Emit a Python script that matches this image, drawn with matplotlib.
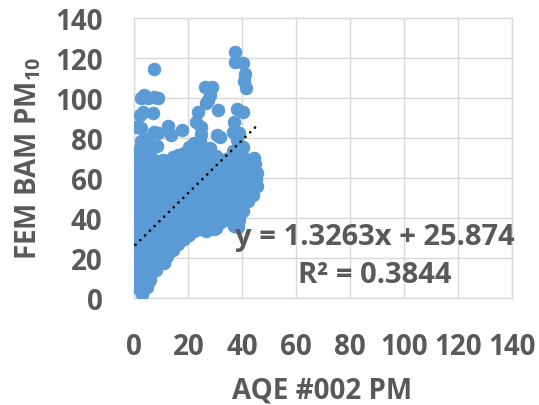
import matplotlib
matplotlib.use("Agg")
import matplotlib.pyplot as plt
import numpy as np

# AQE #002 PM readings (x) against FEM BAM PM10 readings (y)
aqe_pm = [
    0.6, 0.5, 0.8, 0.4, 0.7, 0.5, 0.9, 0.6, 0.4, 0.8, 0.5, 0.7, 0.6, 0.4, 0.9, 0.5, 0.7, 0.6,
    2.4, 2.1, 2.7, 1.9, 2.5, 2.2, 2.8, 2.0, 2.6, 2.3, 1.8, 2.5, 2.1, 2.7, 2.4, 2.0, 2.6, 2.3, 1.9, 2.5,
    3.8, 4.2, 3.6, 4.5, 4.0, 3.7, 4.4, 4.1, 3.9, 4.6, 3.8, 4.3, 4.0, 3.6, 4.4, 4.1, 3.9, 4.5, 4.2,
    5.9, 6.3, 5.7, 6.5, 6.0, 5.8, 6.4, 6.1, 5.6, 6.2, 6.6, 5.9, 6.3, 5.7, 6.0, 6.4, 5.8,
    8.1, 7.8, 8.4, 8.0, 8.6, 7.7, 8.3, 8.2, 7.9, 8.5, 8.0, 7.8, 8.4, 8.1, 8.3,
    10.2, 9.8, 10.5, 10.0, 9.7, 10.4, 10.1, 9.9, 10.6, 10.3, 9.8, 10.2, 10.0, 10.5,
    12.1, 12.5, 11.8, 12.3, 12.7, 12.0, 12.4, 11.9, 12.6, 12.2, 12.0, 12.5, 12.3,
    14.3, 14.0, 14.6, 13.8, 14.4, 14.1, 14.7, 13.9, 14.5, 14.2, 14.0, 14.6, 14.3,
    16.2, 15.9, 16.5, 16.0, 16.7, 15.8, 16.3, 16.1, 16.6, 15.9, 16.4, 16.2,
    18.4, 18.0, 18.6, 17.8, 18.3, 18.1, 18.7, 17.9, 18.5, 18.2, 18.0, 18.4,
    20.3, 19.9, 20.6, 20.1, 19.8, 20.4, 20.0, 20.7, 20.2, 19.9, 20.5, 20.1,
    22.2, 22.6, 21.9, 22.4, 22.0, 22.7, 22.3, 21.8, 22.5, 22.1, 22.4, 22.0,
    24.1, 24.5, 23.8, 24.3, 24.7, 24.0, 24.4, 23.9, 24.6, 24.2, 24.0, 24.4,
    26.2, 25.9, 26.5, 26.0, 26.7, 25.8, 26.3, 26.1, 26.6, 25.9, 26.4,
    28.3, 28.0, 28.6, 27.8, 28.4, 28.1, 28.7, 27.9, 28.5, 28.2, 28.0,
    30.1, 30.5, 29.8, 30.3, 30.7, 30.0, 30.4, 29.9, 30.6, 30.2,
    31.9, 32.3, 32.0, 32.6, 31.8, 32.4, 32.1,
    34.2, 33.9, 34.5, 34.0, 34.6, 33.8, 34.3, 34.1,
    36.1, 35.8, 36.4, 36.0, 36.6, 35.9, 36.3, 36.1, 35.8, 36.5,
    38.2, 37.9, 38.5, 38.0, 38.6, 37.8, 38.3, 38.1, 38.4, 37.9, 38.2, 38.0,
    40.1, 40.5, 39.8, 40.3, 40.6, 40.0, 40.4, 39.9, 40.2,
    42.2, 41.9, 42.5, 42.0, 42.6, 42.3,
    44.1, 43.8, 44.4, 44.0, 44.6, 44.2,
    45.3, 45.1, 45.4,
    0.6, 2.4, 1.9, 3.2, 2.5, 3.6, 5.0, 7.4, 8.7, 7.0, 7.3, 7.4, 8.9, 5.2, 8.3,
    12.5, 13.4, 17.8, 23.5, 23.0, 24.8, 24.6, 26.3, 28.6, 28.0, 26.7, 27.3, 30.9, 30.5, 31.8,
    37.3, 37.3, 40.2, 41.0, 40.6, 41.3, 37.9, 40.3, 36.9, 36.4, 38.8,
    11.5, 10.8, 2.9, 4.8, 35.4, 36.9, 38.9, 23.8, 29.6, 26.5,
]

fem_pm10 = [
    5.2, 8.9, 12.4, 16.8, 20.1, 24.6, 27.9, 32.3, 36.7, 40.2, 44.8, 48.1, 52.6, 56.3, 59.8, 64.5, 68.2, 71.9,
    3.1, 6.8, 10.5, 14.2, 18.7, 22.3, 26.1, 29.8, 34.4, 38.0, 42.6, 46.2, 50.5, 54.1, 58.7, 62.4, 66.0, 70.3, 74.8, 78.5,
    4.6, 8.3, 12.7, 16.1, 20.4, 24.0, 28.5, 31.9, 36.2, 39.8, 44.1, 47.7, 52.2, 55.9, 60.3, 64.0, 68.4, 72.1, 76.6,
    8.8, 12.5, 16.2, 19.9, 24.3, 27.8, 32.0, 35.6, 40.1, 43.7, 47.9, 51.5, 55.8, 59.6, 63.9, 67.3, 71.4,
    13.6, 17.2, 21.0, 24.7, 28.9, 32.4, 36.8, 40.5, 44.3, 48.6, 52.1, 56.4, 60.0, 64.2, 68.5,
    17.9, 21.5, 25.3, 29.0, 33.2, 36.9, 40.8, 44.9, 48.3, 52.7, 56.5, 60.6, 64.1, 68.8,
    20.6, 24.2, 28.4, 32.1, 36.5, 40.0, 44.4, 48.2, 52.0, 56.1, 60.4, 64.7, 68.3,
    23.8, 27.5, 31.2, 35.0, 39.3, 43.1, 46.8, 50.9, 54.6, 58.8, 62.5, 66.3, 70.6,
    26.7, 30.4, 34.6, 38.2, 42.5, 46.1, 50.3, 54.0, 58.2, 62.0, 66.6, 71.3,
    29.3, 33.0, 36.9, 40.7, 44.6, 48.8, 52.4, 56.7, 60.2, 64.5, 68.1, 72.4,
    31.4, 35.2, 39.1, 43.0, 46.8, 50.6, 54.9, 58.5, 62.3, 66.8, 70.7, 75.3,
    33.1, 36.8, 40.9, 44.5, 48.4, 52.3, 56.2, 60.1, 64.0, 68.0, 72.2, 77.4,
    34.3, 38.0, 42.1, 46.0, 49.9, 53.8, 57.9, 61.7, 65.6, 69.5, 73.8, 78.6,
    34.6, 38.5, 42.4, 46.3, 50.2, 54.1, 58.0, 62.2, 66.1, 70.0, 74.4,
    35.0, 38.9, 42.8, 46.7, 50.5, 54.4, 58.3, 62.6, 66.4, 70.3, 75.1,
    34.8, 38.7, 42.6, 46.5, 50.4, 54.7, 58.6, 62.5, 66.7, 71.0,
    37.9, 47.8, 51.9, 55.6, 59.9, 64.3, 68.6,
    41.2, 45.0, 48.9, 53.2, 57.1, 61.0, 65.2, 69.4,
    37.6, 41.4, 45.3, 49.2, 53.0, 57.3, 61.2, 65.0, 69.1, 73.2,
    35.5, 39.4, 43.2, 47.1, 50.9, 54.8, 58.9, 62.8, 66.5, 70.6, 74.7, 79.0,
    43.3, 47.2, 51.1, 55.0, 58.8, 62.9, 66.7, 71.2, 75.5,
    48.4, 52.2, 56.1, 60.0, 64.1, 68.2,
    51.3, 55.2, 59.1, 62.9, 66.8, 69.8,
    55.6, 59.4, 62.3,
    85.6, 84.8, 91.4, 93.0, 99.8, 101.5, 100.0, 100.2, 99.9, 92.3, 114.4, 83.1, 82.2, 79.5, 76.0,
    85.9, 81.4, 83.9, 93.0, 88.0, 85.6, 82.0, 105.2, 105.2, 101.5, 97.6, 99.0, 94.0, 81.4, 80.5,
    122.8, 117.9, 117.6, 111.9, 108.3, 105.0, 94.5, 93.0, 88.0, 83.1, 82.5,
    19.3, 17.5, 2.0, 5.4, 41.1, 35.9, 39.0, 34.4, 34.4, 33.5,
]

# Linear trendline as reported on the chart
slope = 1.3263
intercept = 25.874
r_squared = 0.3844

axis_ticks = [0, 20, 40, 60, 80, 100, 120, 140]

TEXT = "#595959"
BLUE = "#5B9BD5"
GRID = "#D9D9D9"
FONT = "Open Sans"

plt.rcParams["font.family"] = [FONT, "DejaVu Sans"]
plt.rcParams["font.weight"] = "bold"
plt.rcParams["mathtext.fontset"] = "custom"
plt.rcParams["mathtext.rm"] = FONT + ":bold"
plt.rcParams["mathtext.it"] = FONT + ":bold"
plt.rcParams["mathtext.bf"] = FONT + ":bold"
plt.rcParams["mathtext.default"] = "rm"

W, H = 539, 406
fig = plt.figure(figsize=(W / 100, H / 100), dpi=100)
left, right, top, bottom = 134.4, 512.3, 19.0, 298.5
ax = fig.add_axes([left / W, 1 - bottom / H, (right - left) / W, (bottom - top) / H])

ax.scatter(aqe_pm, fem_pm10, s=80, color=BLUE, edgecolors=BLUE, linewidths=0.8, zorder=3)

x_line = np.array([min(aqe_pm), max(aqe_pm)])
ax.plot(x_line, slope * x_line + intercept, color="black", linewidth=2.0,
        linestyle=(0, (0.01, 2.4)), dash_capstyle="round", zorder=4)

ax.set_xlim(0, 140)
ax.set_ylim(0, 140)
ax.set_xticks(axis_ticks)
ax.set_yticks(axis_ticks)
ax.grid(True, color=GRID, linewidth=1.0)
ax.set_axisbelow(True)
for sp in ax.spines.values():
    sp.set_color(GRID)
    sp.set_linewidth(1.0)
ax.tick_params(axis="both", length=0, labelsize=20, labelcolor=TEXT)
ax.tick_params(axis="y", pad=23)
ax.tick_params(axis="x", pad=25)

fig.text(321.7 / W, 1 - 398.5 / H, "AQE #002 PM", ha="center", va="baseline",
         fontsize=20, color=TEXT, fontweight="bold")
fig.text(28 / W, 1 - 158.5 / H, "FEM BAM PM$_{10}$", ha="center", va="center",
         rotation=90, fontsize=20, color=TEXT, fontweight="bold")

fig.text(375 / W, 1 - 245 / H, f"y = {slope}x + {intercept}", ha="center",
         va="baseline", fontsize=21, color=TEXT, fontweight="bold", zorder=5)
fig.text(375 / W, 1 - 283.3 / H, f"R² = {r_squared}", ha="center",
         va="baseline", fontsize=21, color=TEXT, fontweight="bold", zorder=5)

fig.savefig("out.png", dpi=100)
